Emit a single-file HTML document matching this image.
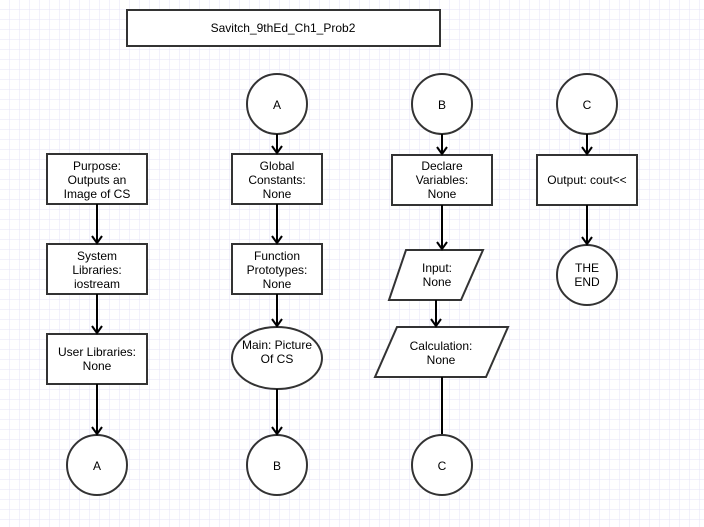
<!DOCTYPE html>
<html><head><style>
html,body{margin:0;padding:0;background:#fff;}
svg{display:block;}
text{font-family:"Liberation Sans",Arial,sans-serif;font-size:12px;fill:#000;text-anchor:middle;}
</style></head><body>
<svg width="704" height="527" xmlns="http://www.w3.org/2000/svg">
<defs>
<pattern id="g" width="10" height="10" patternUnits="userSpaceOnUse">
<path d="M10 0V10M0 10H10" stroke="#e6e3f7" stroke-width="1" fill="none"/>
</pattern>
</defs>
<rect width="704" height="527" fill="url(#g)"/>
<g stroke="#333" stroke-width="2" fill="#fff">
<rect x="127" y="10" width="313" height="36"/>
<rect x="47" y="154" width="100" height="50"/>
<rect x="47" y="244" width="100" height="50"/>
<rect x="47" y="334" width="100" height="50"/>
<circle cx="97" cy="465" r="30"/>
<circle cx="277" cy="104" r="30"/>
<rect x="232" y="154" width="90" height="50"/>
<rect x="232" y="244" width="90" height="50"/>
<ellipse cx="277" cy="358" rx="45" ry="31"/>
<circle cx="277" cy="465" r="30"/>
<circle cx="442" cy="104" r="30"/>
<rect x="392" y="155" width="100" height="50"/>
<polygon points="406,250 483,250 461,300 389,300"/>
<polygon points="397,327 508,327 486,377 375,377"/>
<circle cx="442" cy="465" r="30"/>
<circle cx="587" cy="104" r="30"/>
<rect x="537" y="155" width="100" height="50"/>
<circle cx="587" cy="275" r="30"/>
</g>
<g stroke="#000" stroke-width="2" fill="none">
<path d="M97 204V243M92 236L97 243L102 236"/>
<path d="M97 294V333M92 326L97 333L102 326"/>
<path d="M97 384V434M92 427L97 434L102 427"/>
<path d="M277 134V153M272 146L277 153L282 146"/>
<path d="M277 204V243M272 236L277 243L282 236"/>
<path d="M277 294V326M272 319L277 326L282 319"/>
<path d="M277 389V434M272 427L277 434L282 427"/>
<path d="M442 134V154M437 147L442 154L447 147"/>
<path d="M442 205V249M437 242L442 249L447 242"/>
<path d="M436 300V326M431 319L436 326L441 319"/>
<path d="M442 377V434"/>
<path d="M587 134V154M582 147L587 154L592 147"/>
<path d="M587 205V244M582 237L587 244L592 237"/>
</g>
<text x="283" y="32">Savitch_9thEd_Ch1_Prob2</text>
<text x="97" y="170">Purpose:</text><text x="97" y="184">Outputs an</text><text x="97" y="198">Image of CS</text>
<text x="97" y="260">System</text><text x="97" y="274">Libraries:</text><text x="97" y="288">iostream</text>
<text x="97" y="356">User Libraries:</text><text x="97" y="370">None</text>
<text x="97" y="470">A</text>
<text x="277" y="109">A</text>
<text x="277" y="170">Global</text><text x="277" y="184">Constants:</text><text x="277" y="198">None</text>
<text x="277" y="260">Function</text><text x="277" y="274">Prototypes:</text><text x="277" y="288">None</text>
<text x="277" y="349">Main: Picture</text><text x="277" y="363">Of CS</text>
<text x="277" y="470">B</text>
<text x="442" y="109">B</text>
<text x="442" y="170">Declare</text><text x="442" y="184">Variables:</text><text x="442" y="198">None</text>
<text x="437" y="272">Input:</text><text x="437" y="286">None</text>
<text x="441" y="350">Calculation:</text><text x="441" y="364">None</text>
<text x="442" y="470">C</text>
<text x="587" y="109">C</text>
<text x="587" y="184">Output: cout&lt;&lt;</text>
<text x="587" y="272">THE</text><text x="587" y="286">END</text>
</svg>
</body></html>
